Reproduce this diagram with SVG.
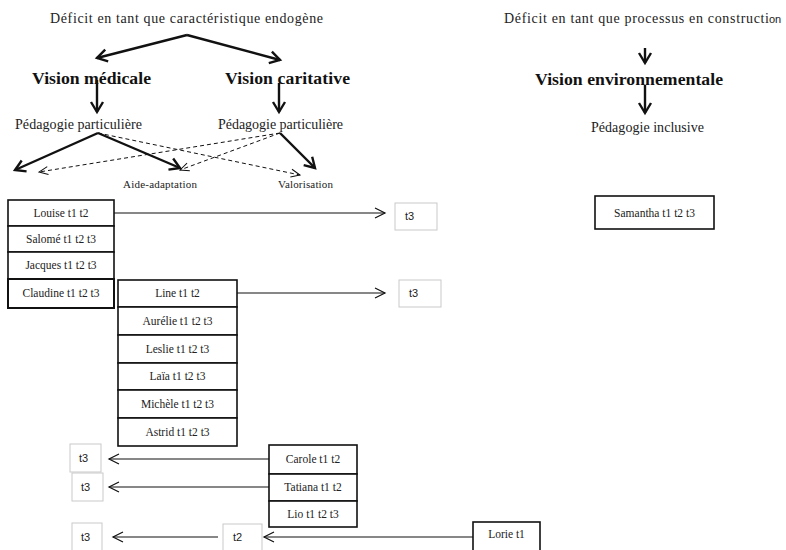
<svg xmlns="http://www.w3.org/2000/svg" width="786" height="550" viewBox="0 0 786 550">
<style>
.serif{font-family:'Liberation Serif','Times New Roman',serif;fill:#222}
.t{font-size:14px}
.b{font-size:17.7px;font-weight:bold;fill:#111}
.s{font-size:11.5px}
.lab{font-size:11px}
.sans{font-family:'Liberation Sans',Arial,sans-serif;font-size:11px;fill:#222}
.box{fill:#fff;stroke:#111;stroke-width:1.6}
.gbox{fill:#fff;stroke:#c9c9c9;stroke-width:1}
.thin{stroke:#111;stroke-width:1.1;fill:none}
.thick{stroke:#111;stroke-width:2.4;fill:none}
.dash{stroke:#111;stroke-width:1;fill:none;stroke-dasharray:4 3}
</style>
<defs>
<marker id="hThin" markerUnits="userSpaceOnUse" markerWidth="14" markerHeight="14" viewBox="-12 -7 14 14" refX="0" refY="0" orient="auto">
<path d="M-10,-5 L0,0 L-10,5" fill="none" stroke="#111" stroke-width="1.2"/>
</marker>
<marker id="hThick" markerUnits="userSpaceOnUse" markerWidth="16" markerHeight="16" viewBox="-13 -8 16 16" refX="0" refY="0" orient="auto">
<path d="M-10,-6 L0,0 L-10,6" fill="none" stroke="#111" stroke-width="2.4"/>
</marker>
<marker id="hDash" markerUnits="userSpaceOnUse" markerWidth="14" markerHeight="14" viewBox="-12 -7 14 14" refX="0" refY="0" orient="auto">
<path d="M-9,-4 L0,0 L-9,4" fill="none" stroke="#111" stroke-width="1"/>
</marker>
</defs>
<rect width="786" height="550" fill="#fff"/>

<g id="titles">
<text class="serif t" x="50" y="23" textLength="273" lengthAdjust="spacing">Déficit en tant que caractéristique endogène</text>
<text class="serif t" x="504" y="23" textLength="265" lengthAdjust="spacing">Déficit en tant que processus en constructi</text><text class="sans" x="769" y="23" font-size="13.5">on</text>
</g>

<g id="vision-medicale"><text class="serif b" x="32" y="84" textLength="119" lengthAdjust="spacing">Vision médicale</text></g>
<g id="vision-caritative"><text class="serif b" x="225" y="84" textLength="125" lengthAdjust="spacing">Vision caritative</text></g>
<g id="vision-env"><text class="serif b" x="535" y="85" textLength="188" lengthAdjust="spacing">Vision environnementale</text></g>
<g id="peda-left"><text class="serif t" x="15" y="129" textLength="127" lengthAdjust="spacing">Pédagogie particulière</text></g>
<g id="peda-right"><text class="serif t" x="218" y="129" textLength="125" lengthAdjust="spacing">Pédagogie particulière</text></g>
<g id="peda-inclusive"><text class="serif t" x="591" y="132" textLength="113" lengthAdjust="spacing">Pédagogie inclusive</text></g>
<g id="aide"><text class="serif lab" x="123" y="188" textLength="74" lengthAdjust="spacing">Aide-adaptation</text></g>
<g id="valorisation"><text class="serif lab" x="278" y="188" textLength="55" lengthAdjust="spacing">Valorisation</text></g>

<g id="group1">
<rect class="box" x="8" y="200" width="106" height="26"/>
<rect class="box" x="8" y="226" width="106" height="26"/>
<rect class="box" x="8" y="252" width="106" height="27"/>
<text class="serif s" x="61" y="217" text-anchor="middle">Louise t1 t2</text>
<text class="serif s" x="61" y="243" text-anchor="middle">Salomé t1 t2 t3</text>
<text class="serif s" x="61" y="269" text-anchor="middle">Jacques t1 t2 t3</text>
</g>
<g id="claudine">
<rect x="8" y="279" width="106" height="29" fill="#fff" stroke="#111" stroke-width="2"/>
<text class="serif s" x="61" y="297" text-anchor="middle">Claudine t1 t2 t3</text>
</g>
<g id="group2">
<rect class="box" x="118" y="280" width="119" height="27"/>
<rect class="box" x="118" y="307" width="119" height="28"/>
<rect class="box" x="118" y="335" width="119" height="28"/>
<rect class="box" x="118" y="363" width="119" height="27"/>
<rect class="box" x="118" y="390" width="119" height="28"/>
<rect class="box" x="118" y="418" width="119" height="28"/>
<text class="serif s" x="177.5" y="297" text-anchor="middle">Line t1 t2</text>
<text class="serif s" x="177.5" y="325" text-anchor="middle">Aurélie  t1 t2 t3</text>
<text class="serif s" x="177.5" y="353" text-anchor="middle">Leslie  t1 t2 t3</text>
<text class="serif s" x="177.5" y="380" text-anchor="middle">Laïa t1 t2  t3</text>
<text class="serif s" x="177.5" y="408" text-anchor="middle">Michèle  t1 t2 t3</text>
<text class="serif s" x="177.5" y="436" text-anchor="middle">Astrid t1 t2 t3</text>
</g>
<g id="group3">
<rect class="box" x="269" y="445" width="88" height="29"/>
<rect class="box" x="269" y="474" width="88" height="27"/>
<rect class="box" x="269" y="501" width="88" height="26"/>
<text class="serif s" x="313" y="463" text-anchor="middle">Carole t1  t2</text>
<text class="serif s" x="313" y="491" text-anchor="middle">Tatiana  t1  t2</text>
<text class="serif s" x="313" y="518" text-anchor="middle">Lio  t1 t2 t3</text>
</g>
<g id="samantha">
<rect class="box" x="595" y="196" width="119" height="33"/>
<text class="serif s" x="654.5" y="217" text-anchor="middle">Samantha  t1 t2 t3</text>
</g>
<g id="lorie">
<rect class="box" x="473" y="522" width="67" height="34"/>
<text class="serif s" x="506.5" y="538" text-anchor="middle">Lorie t1</text>
</g>

<g id="t3-louise"><rect class="gbox" x="395" y="203" width="42" height="27"/><text class="sans" x="405" y="220">t3</text></g>
<g id="t3-line"><rect class="gbox" x="399" y="280" width="42" height="27"/><text class="sans" x="409" y="297">t3</text></g>
<g id="t3-carole"><rect class="gbox" x="70" y="444" width="31" height="28"/><text class="sans" x="79" y="462">t3</text></g>
<g id="t3-tatiana"><rect class="gbox" x="72" y="473" width="31" height="28"/><text class="sans" x="81" y="491">t3</text></g>
<g id="t3-lorie"><rect class="gbox" x="72" y="523" width="30" height="28"/><text class="sans" x="81" y="541">t3</text></g>
<g id="t2-lorie"><rect class="gbox" x="223" y="524" width="39" height="28"/><text class="sans" x="233" y="541">t2</text></g>

<g id="connectors">
<line class="thick" x1="187" y1="35" x2="97" y2="58" marker-end="url(#hThick)"/>
<line class="thick" x1="187" y1="35" x2="280" y2="60" marker-end="url(#hThick)"/>
<line class="thick" x1="97" y1="80" x2="97" y2="112" marker-end="url(#hThick)"/>
<line class="thick" x1="279" y1="83" x2="279" y2="112" marker-end="url(#hThick)"/>
<line class="thick" x1="645" y1="48" x2="645" y2="63" marker-end="url(#hThick)"/>
<line class="thick" x1="645" y1="85" x2="645" y2="113" marker-end="url(#hThick)"/>
<line class="thick" x1="98" y1="133" x2="15" y2="170" marker-end="url(#hThick)"/>
<line class="thick" x1="98" y1="133" x2="180" y2="168" marker-end="url(#hThick)"/>
<line class="dash" x1="98" y1="133" x2="300" y2="175" marker-end="url(#hDash)"/>
<line class="dash" x1="280" y1="133" x2="39" y2="172" marker-end="url(#hDash)"/>
<line class="dash" x1="280" y1="133" x2="180" y2="170" marker-end="url(#hDash)"/>
<line class="thick" x1="280" y1="133" x2="315" y2="168" marker-end="url(#hThick)"/>
<line class="thin" x1="114" y1="213" x2="385" y2="213" marker-end="url(#hThin)"/>
<line class="thin" x1="237" y1="293" x2="385" y2="293" marker-end="url(#hThin)"/>
<line class="thin" x1="269" y1="459" x2="109" y2="459" marker-end="url(#hThin)"/>
<line class="thin" x1="269" y1="487" x2="109" y2="487" marker-end="url(#hThin)"/>
<line class="thin" x1="218" y1="537" x2="113" y2="537" marker-end="url(#hThin)"/>
<line class="thin" x1="473" y1="537" x2="264" y2="537" marker-end="url(#hThin)"/>
</g>
</svg>
